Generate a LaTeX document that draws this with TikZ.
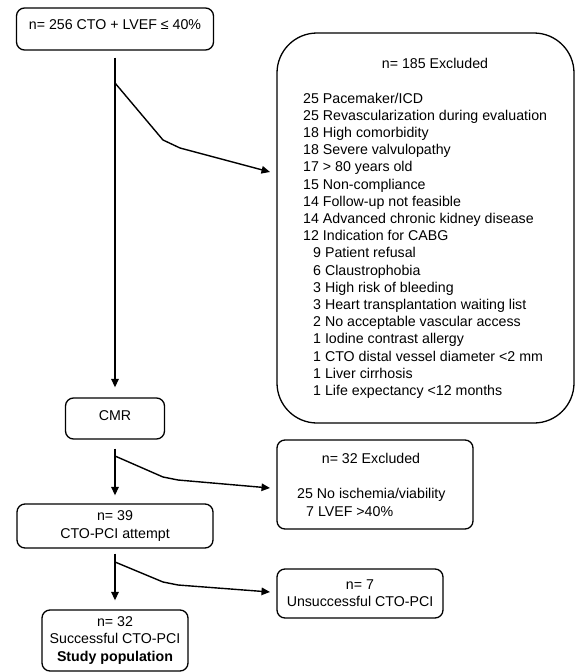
\documentclass[tikz,border=0pt]{standalone}
\usepackage{fontspec}
\setmainfont{Liberation Sans}
\usetikzlibrary{arrows.meta}
\begin{document}
\begin{tikzpicture}[x=1pt,y=-1pt,
  box/.style={draw,line width=1.3pt,rounded corners=8pt,inner sep=0pt,align=center,
    font=\fontsize{14.2}{17.2}\selectfont},
  flow/.style={line width=1.4pt,-{Triangle[length=8.5pt,width=7.5pt]}},
  txt/.style={inner sep=0pt,font=\fontsize{14.2}{17.2}\selectfont}]
\useasboundingbox (0,0) rectangle (576,672);
% main column
\node[box,minimum width=197pt,minimum height=42pt,text height=5pt,text depth=5pt] (start) at (115,29) {n= 256 CTO + LVEF ≤ 40\%};
\node[box,minimum width=99pt,minimum height=41pt,text height=6.5pt,text depth=3.5pt] (cmr) at (115,418.5) {CMR};
\node[box,minimum width=196pt,minimum height=44pt] (attempt) at (115,526) {n= 39\\CTO-PCI attempt};
\node[box,minimum width=146pt,minimum height=61pt] (success) at (115,640.5) {n= 32\\Successful CTO-PCI\\\textbf{Study population}};
% side boxes
\node[box,rounded corners=40pt,minimum width=297pt,minimum height=390pt] (excl1) at (425.5,228) {};
\node[txt,anchor=base] (excl1title) at (435,68) {n= 185 Excluded};
\foreach \t [count=\i from 0] in {25 Pacemaker/ICD,25 Revascularization during evaluation,18 High comorbidity,18 Severe valvulopathy,17 > 80 years old,15 Non-compliance,14 Follow-up not feasible,14 Advanced chronic kidney disease,12 Indication for CABG}
  \node[txt,anchor=base west] (exa\i) at (303,103+17.2*\i) {\t};
\foreach \t [count=\i from 9] in {9 Patient refusal,6 Claustrophobia,3 High risk of bleeding,3 Heart transplantation waiting list,2 No acceptable vascular access,1 Iodine contrast allergy,1 CTO distal vessel diameter <2 mm,1 Liver cirrhosis,1 Life expectancy <12 months}
  \node[txt,anchor=base west] (exb\i) at (313,103+17.2*\i) {\t};
\node[box,minimum width=196pt,minimum height=89pt] (excl2) at (375,484.5) {};
\node[txt,anchor=base] (excl2title) at (371,463) {n= 32 Excluded};
\node[txt,anchor=base west] (excl2a) at (297,498) {25 No ischemia/viability};
\node[txt,anchor=base west] (excl2b) at (306,516) {7 LVEF >40\%};
\node[box,minimum width=166pt,minimum height=49pt] (fail) at (360,593.5) {n= 7\\Unsuccessful CTO-PCI};
% vertical arrows
\draw[flow,shorten <=7pt,shorten >=10pt] (start) -- (cmr);
\draw[flow,shorten <=9pt,shorten >=8pt] (cmr) -- (attempt);
\draw[flow,shorten <=5pt,shorten >=9pt] (attempt) -- (success);
% branches
\coordinate (b1) at (115,83);  \coordinate (b1m) at (163,140); \coordinate (b1n) at (180,148); \coordinate (e1) at (270,172);
\coordinate (b2) at (115,456); \coordinate (b2m) at (163,477); \coordinate (b2n) at (178,480); \coordinate (e2) at (270,488);
\coordinate (b3) at (115,562); \coordinate (b3m) at (163,582); \coordinate (b3n) at (178,585); \coordinate (e3) at (270,592);
\draw[flow,line join=round] (b1) -- (b1m) -- (b1n) -- (e1);
\draw[flow,line join=round] (b2) -- (b2m) -- (b2n) -- (e2);
\draw[flow,line join=round] (b3) -- (b3m) -- (b3n) -- (e3);
\end{tikzpicture}
\end{document}
